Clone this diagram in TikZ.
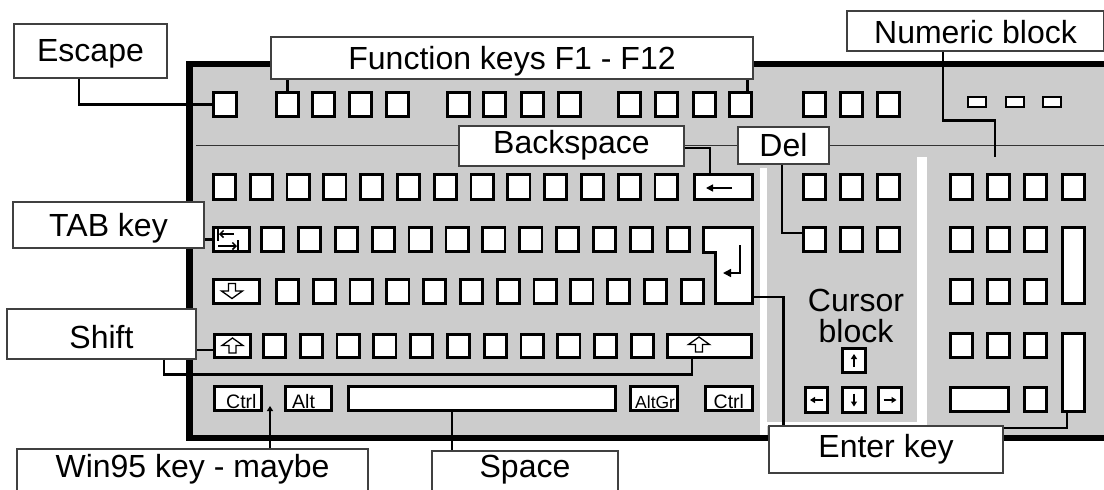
\documentclass[tikz,border=0pt]{standalone}
\usepackage{fontspec}
\setmainfont{Liberation Sans}
\usetikzlibrary{arrows.meta}
\definecolor{kbgray}{RGB}{204,204,204}
\newcommand\lbfont{\fontsize{32}{32}\selectfont}
\newcommand\smfont{\fontsize{19.5}{19.5}\selectfont}
\newcommand\smnarrow{\fontsize{17.5}{17.5}\selectfont}
\newcommand\kb[5]{%
  \pgfmathsetmacro\kbw{(#4)-(#2)-2.8}%
  \pgfmathsetmacro\kbh{(#5)-(#3)-2.8}%
  \node[keybox,minimum width=\kbw pt,minimum height=\kbh pt] (#1) at ({((#2)+(#4))/2},{((#3)+(#5))/2}) {};}
\begin{document}
\begin{tikzpicture}[x=1pt,y=-1pt,
  keybox/.style={draw,fill=white,line width=2.8pt,inner sep=0pt},
  led/.style={draw,fill=white,line width=1.6pt,inner sep=0pt,minimum width=18pt,minimum height=10pt},
  lbl/.style={draw=black!75,line width=1.2pt,fill=white,inner sep=0pt,font=\lbfont,text height=23pt,text depth=1pt},
  conn/.style={line width=2.6pt},
  glyph/.style={line width=1.5pt},
  hollow/.style={line width=1.3pt,line join=miter,fill=white},
  smalltxt/.style={font=\smfont,inner sep=0pt,anchor=base west},
  hup/.pic={\draw[hollow] (0,-7.5) -- (10.5,0) -- (3.5,0) -- (3.5,7.5) -- (-3.5,7.5) -- (-3.5,0) -- (-10.5,0) -- cycle;},
  hdown/.pic={\draw[hollow] (0,7.5) -- (10.5,0) -- (3.5,0) -- (3.5,-7.5) -- (-3.5,-7.5) -- (-3.5,0) -- (-10.5,0) -- cycle;}]
\clip (0,0) rectangle (1104,490);
\fill[white] (0,0) rectangle (1104,490);
% keyboard body
\fill[kbgray] (189.5,64) rectangle (1110,438);
\fill[white] (760,168) rectangle (767,436);
\fill[white] (917,157) rectangle (927,426);
\fill[white] (767,422) rectangle (917,426);
\draw[line width=6.5pt] (1110,64) -- (189.5,64) -- (189.5,438) -- (1110,438);
\draw[line width=1.3pt,black!80] (196,145.5) -- (1104,145.5);
% function row
\kb{esc}{212}{91}{238}{118}
\foreach \x [count=\n] in {275,311,348,385,446,482,520,557,617,654,692,728}{\kb{f\n}{\x}{91}{\x+25}{118}}
\foreach \x [count=\n] in {802,839,876}{\kb{sp\n}{\x}{91}{\x+25}{118}}
\node[led] (led1) at (977,102) {};
\node[led] (led2) at (1015,102) {};
\node[led] (led3) at (1052,102) {};
% main block
\foreach \i in {0,...,12}{\pgfmathsetmacro\xa{212+36.8*\i}\kb{ra\i}{\xa}{173}{\xa+25}{201}}
\kb{bs}{693}{173}{754}{201}
\kb{tab}{212}{226}{251}{253}
\foreach \i in {0,...,11}{\pgfmathsetmacro\xa{260+36.9*\i}\kb{rb\i}{\xa}{226}{\xa+25}{253}}
\draw[line width=2.8pt,fill=white] (703.4,227.4) -- (752.6,227.4) -- (752.6,303.6) -- (715.4,303.6) -- (715.4,252.6) -- (703.4,252.6) -- cycle;
\coordinate (entR) at (754,297);
\kb{caps}{212}{278}{261}{305}
\foreach \i in {0,...,11}{\pgfmathsetmacro\xa{275+36.8*\i}\kb{rc\i}{\xa}{278}{\xa+25}{305}}
\kb{lshift}{213}{333}{252}{359}
\foreach \i in {0,...,10}{\pgfmathsetmacro\xa{262+36.8*\i}\kb{rd\i}{\xa}{333}{\xa+25}{359}}
\kb{rshift}{666}{333}{753}{359}
\kb{ctrl}{213}{385}{263}{412}
\kb{alt}{284}{385}{333}{412}
\kb{space}{347}{385}{617}{412}
\kb{altgr}{629}{385}{679}{412}
\kb{rctrl}{704}{385}{754}{412}
\node[smalltxt] (ctrlt) at (226,408) {Ctrl};
\node[smalltxt] (altt) at (292,408) {Alt};
\node[smalltxt,font=\smnarrow] (altgrt) at (635,408) {AltGr};
\node[smalltxt] (rctrlt) at (713.5,408) {Ctrl};
% glyphs
\draw[glyph,-{Triangle[length=7pt,width=7pt]}] (732,188) -- (706,188);
\draw[glyph,-{Triangle[length=8pt,width=8pt]}] (740,245) -- (740,273) -- (723,273);
\draw[glyph] (218,228.5) -- (218,240.5);
\draw[glyph,-{Straight Barb[length=3.5pt,width=7pt]}] (234,234) -- (219,234);
\draw[glyph] (238,240) -- (238,251.5);
\draw[glyph,-{Straight Barb[length=3.5pt,width=7pt]}] (218,246) -- (237,246);
\pic at (232,291) {hdown};
\pic at (232.5,345.5) {hup};
\pic at (699,344.5) {hup};
% cursor block
\foreach \x [count=\n] in {802,839,876}{\kb{cu\n}{\x}{173}{\x+25}{201}}
\foreach \x [count=\n] in {802,839,876}{\kb{cd\n}{\x}{226}{\x+25}{253}}
\kb{cup}{841}{347}{867}{374}
\kb{cleft}{804}{386}{829}{414}
\kb{cdown}{841}{386}{867}{414}
\kb{cright}{877}{386}{903}{414}
\draw[glyph,-{Triangle[length=5pt,width=6pt]}] ([yshift=-6.5pt]cup.center) -- ([yshift=6.5pt]cup.center);
\draw[glyph,-{Triangle[length=5pt,width=6pt]}] ([yshift=6.5pt]cdown.center) -- ([yshift=-6.5pt]cdown.center);
\draw[glyph,-{Triangle[length=5pt,width=6pt]}] ([xshift=6.5pt]cleft.center) -- ([xshift=-6.5pt]cleft.center);
\draw[glyph,-{Triangle[length=5pt,width=6pt]}] ([xshift=-6.5pt]cright.center) -- ([xshift=6.5pt]cright.center);
\node[font=\lbfont,anchor=base,inner sep=0pt] (cur1) at (856,311) {Cursor};
\node[font=\lbfont,anchor=base,inner sep=0pt] (cur2) at (856,342) {block};
% numeric block
\foreach \x [count=\n] in {949,986,1023,1061}{\kb{na\n}{\x}{173}{\x+25}{201}}
\foreach \x [count=\n] in {949,986,1023}{\kb{nb\n}{\x}{226}{\x+25}{253}}
\kb{nplus}{1061}{226}{1086}{305}
\foreach \x [count=\n] in {949,986,1023}{\kb{nc\n}{\x}{278}{\x+25}{305}}
\foreach \x [count=\n] in {949,986,1023}{\kb{nd\n}{\x}{332}{\x+25}{359}}
\kb{nent}{1061}{332}{1086}{413}
\kb{nzero}{949}{386}{1010}{413}
\kb{ndot}{1023}{386}{1048}{413}
% labels
\node[lbl,minimum width=153pt,minimum height=54pt,text depth=1.5pt] (esclbl) at (90.5,51) {Escape};
\node[lbl,minimum width=482pt,minimum height=42pt] (fnlbl) at (512,58) {Function keys F1 - F12};
\node[lbl,minimum width=257pt,minimum height=40pt,text height=25pt,text depth=0pt] (numlbl) at (975.5,31) {Numeric block};
\node[lbl,minimum width=225pt,minimum height=40pt,text depth=8.4pt] (bslbl) at (571.5,146) {Backspace};
\node[lbl,minimum width=91pt,minimum height=37pt] (dellbl) at (783.5,145.5) {Del};
\node[lbl,minimum width=191pt,minimum height=46pt] (tablbl) at (108.5,225) {TAB key};
\node[lbl,minimum width=189pt,minimum height=50pt,text height=28.6pt,text depth=0pt] (shiftlbl) at (101.5,334) {Shift};
\node[lbl,minimum width=351pt,minimum height=60pt,text depth=27pt] (winlbl) at (192.5,479) {Win95 key - maybe};
\node[lbl,minimum width=186pt,minimum height=56pt,text depth=27pt] (spclbl) at (525,479) {Space};
\node[lbl,minimum width=234pt,minimum height=47pt,text depth=8pt] (entlbl) at (886,449.5) {Enter key};
% connectors
\coordinate (numc) at ([xshift=-32.5pt]numlbl.south);
\coordinate (numend) at (995,157);
\draw[conn] (numc) -- ++(0,69) -| (numend);
\draw[conn] ([xshift=-11.5pt]esclbl.south) |- (esc.west);
\draw[conn] (f1.north) -- (f1.north |- fnlbl.south);
\coordinate (f12c) at ([xshift=7pt]f12.north);
\draw[conn] (f12c) -- (f12c |- fnlbl.south);
\coordinate (bsc) at ([xshift=-13.5pt]bs.north);
\draw[conn] ([yshift=-2pt]bslbl.east) -| (bsc);
\coordinate (delc) at ([yshift=6.5pt]cd1.west);
\draw[conn] ([xshift=-1.5pt]dellbl.south) |- (delc);
\draw[conn] (tab.west) -- (tab.west -| tablbl.east);
\coordinate (lsc) at ([yshift=-4pt]lshift.west);
\draw[conn] (lsc) -- (lsc -| shiftlbl.east);
\coordinate (shc) at ([xshift=62.5pt]shiftlbl.south);
\coordinate (rsc) at ([xshift=-17.5pt]rshift.south);
\draw[conn] (shc) -- ++(0,15) -| (rsc);
\coordinate (win) at (270,406);
\draw[line width=2.2pt,-{Triangle[length=5pt,width=6pt]}] (winlbl.north -| win) -- (win);
\coordinate (spc) at ([xshift=-30pt]space.south);
\draw[conn] (spc) -- (spc |- spclbl.north);
\coordinate (entc) at ([xshift=15pt]entlbl.north west);
\draw[conn] (entR) -| (entc);
\coordinate (nec) at ([xshift=-6.5pt]nent.south);
\draw[conn] (nec) |- ([yshift=21.5pt]entlbl.east);
\end{tikzpicture}
\end{document}
